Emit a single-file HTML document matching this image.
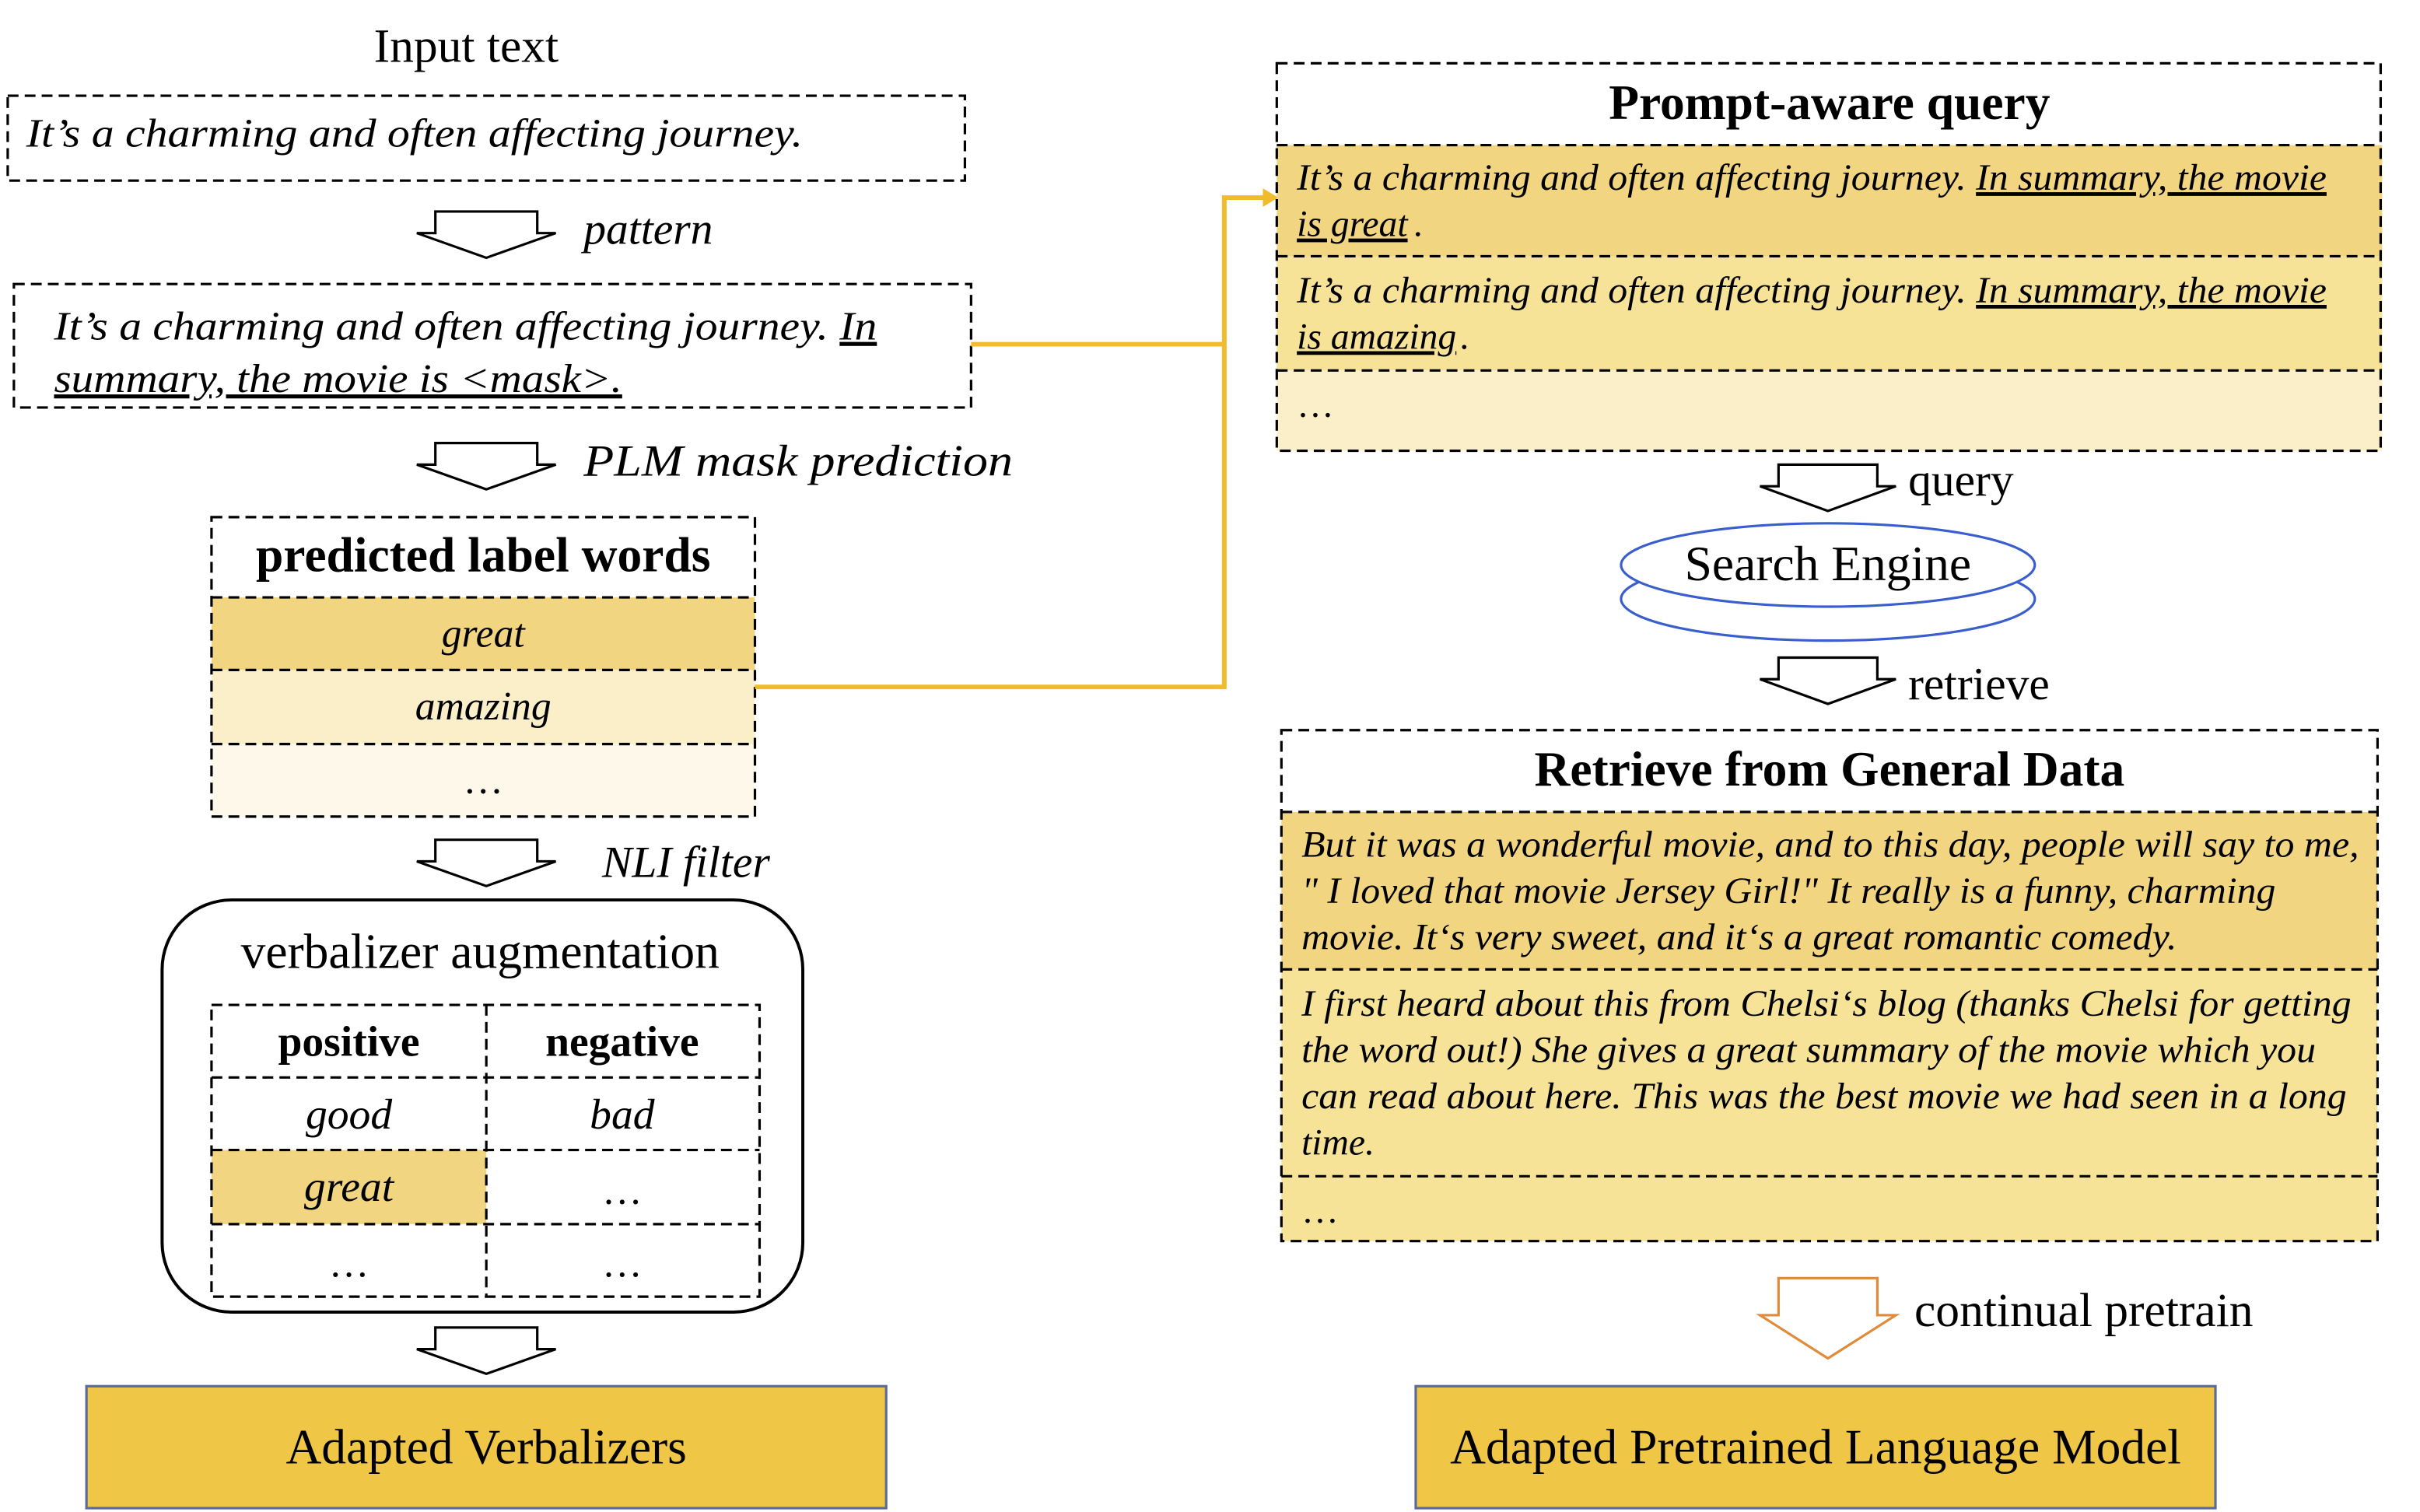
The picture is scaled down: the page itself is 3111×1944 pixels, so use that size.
<!DOCTYPE html>
<html><head><meta charset="utf-8"><style>html,body{margin:0;padding:0;background:#fff}svg{display:block}</style></head>
<body>
<svg xmlns="http://www.w3.org/2000/svg" width="3111" height="1944" viewBox="0 0 1567.5 979.5" preserveAspectRatio="none" font-family="Liberation Serif, serif">
<defs>
<g id="harrow"><path d="M282,0 H348 V14 H360 L315,30 L270,14 H282 Z" fill="#fff" stroke="#000" stroke-width="1.6"/></g>
<g id="harrowR"><path d="M1152,0 H1216 V14 H1228 L1184,30 L1140,14 H1152 Z" fill="#fff" stroke="#000" stroke-width="1.6"/></g>
</defs>
<!-- Left -->
<text x="302" y="40" font-size="31" text-anchor="middle">Input text</text>
<rect x="5" y="62" width="620" height="55" fill="#fff" stroke="#000" stroke-width="1.6" stroke-dasharray="7 4"/>
<text x="17" y="95" font-size="26" font-style="italic" textLength="503" lengthAdjust="spacingAndGlyphs">It’s a charming and often affecting journey.</text>
<use href="#harrow" transform="translate(0,137)"/>
<text x="378" y="158" font-size="29" font-style="italic">pattern</text>
<rect x="9" y="184" width="620" height="80" fill="#fff" stroke="#000" stroke-width="1.6" stroke-dasharray="7 4"/>
<text x="35" y="220" font-size="26" font-style="italic" textLength="533" lengthAdjust="spacingAndGlyphs">It’s a charming and often affecting journey. <tspan text-decoration="underline">In</tspan></text>
<text x="35" y="254" font-size="26" font-style="italic" text-decoration="underline" textLength="368" lengthAdjust="spacingAndGlyphs">summary, the movie is &lt;mask&gt;.</text>
<use href="#harrow" transform="translate(0,287)"/>
<text x="378" y="308" font-size="29" font-style="italic" textLength="278" lengthAdjust="spacingAndGlyphs">PLM mask prediction</text>
<rect x="137" y="387" width="352" height="47" fill="#f2d580"/>
<rect x="137" y="434" width="352" height="48" fill="#faefc9"/>
<rect x="137" y="482" width="352" height="47" fill="#fdf8ea"/>
<g stroke="#000" stroke-width="1.6" stroke-dasharray="7 4" fill="none">
<rect x="137" y="335" width="352" height="194"/>
<line x1="137" y1="387" x2="489" y2="387"/><line x1="137" y1="434" x2="489" y2="434"/><line x1="137" y1="482" x2="489" y2="482"/>
</g>
<text x="313" y="370" font-size="32" font-weight="bold" text-anchor="middle">predicted label words</text>
<text x="313" y="419" font-size="26" font-style="italic" text-anchor="middle">great</text>
<text x="313" y="466" font-size="26" font-style="italic" text-anchor="middle">amazing</text>
<text x="313" y="514" font-size="26" text-anchor="middle">…</text>
<use href="#harrow" transform="translate(0,544)"/>
<text x="390" y="568" font-size="29" font-style="italic">NLI filter</text>
<rect x="105" y="583" width="415" height="267" rx="45" fill="#fff" stroke="#000" stroke-width="2"/>
<text x="311" y="627" font-size="32" text-anchor="middle">verbalizer augmentation</text>
<rect x="137" y="745" width="178" height="48" fill="#f2d580"/>
<g stroke="#000" stroke-width="1.6" stroke-dasharray="7 4" fill="none">
<rect x="137" y="651" width="355" height="189"/>
<line x1="315" y1="651" x2="315" y2="840"/>
<line x1="137" y1="698" x2="492" y2="698"/><line x1="137" y1="745" x2="492" y2="745"/><line x1="137" y1="793" x2="492" y2="793"/>
</g>
<text x="226" y="684" font-size="28" font-weight="bold" text-anchor="middle">positive</text>
<text x="403" y="684" font-size="28" font-weight="bold" text-anchor="middle">negative</text>
<text x="226" y="731" font-size="28" font-style="italic" text-anchor="middle">good</text>
<text x="403" y="731" font-size="28" font-style="italic" text-anchor="middle">bad</text>
<text x="226" y="778" font-size="28" font-style="italic" text-anchor="middle">great</text>
<text x="403" y="780" font-size="26" text-anchor="middle">…</text>
<text x="226" y="827" font-size="26" text-anchor="middle">…</text>
<text x="403" y="827" font-size="26" text-anchor="middle">…</text>
<use href="#harrow" transform="translate(0,860)"/>
<rect x="56" y="898" width="518" height="79" fill="#f0c646" stroke="#5a6a9a" stroke-width="1.6"/>
<text x="315" y="948" font-size="32" text-anchor="middle">Adapted Verbalizers</text>
<!-- connectors -->
<g stroke="#f0bc2e" stroke-width="3" fill="none">
<polyline points="629,223 793,223 793,128 820,128"/>
<polyline points="489,445 793,445 793,223"/>
</g>
<path d="M828,128 L818,122 L818,134 Z" fill="#f0bc2e"/>
<!-- Right -->
<rect x="827" y="94" width="716" height="72" fill="#f2d580"/>
<rect x="827" y="166" width="716" height="74" fill="#f6e398"/>
<rect x="827" y="240" width="716" height="52" fill="#faefc9"/>
<g stroke="#000" stroke-width="1.6" stroke-dasharray="7 4" fill="none">
<rect x="827" y="41" width="715" height="251"/>
<line x1="827" y1="94" x2="1542" y2="94"/><line x1="827" y1="166" x2="1542" y2="166"/><line x1="827" y1="240" x2="1542" y2="240"/>
</g>
<text x="1185" y="77" font-size="32" font-weight="bold" text-anchor="middle">Prompt-aware query</text>
<g font-size="24" font-style="italic">
<text x="840" y="123" textLength="667" lengthAdjust="spacingAndGlyphs">It’s a charming and often affecting journey. <tspan text-decoration="underline">In summary, the movie</tspan></text>
<text x="840" y="153" text-decoration="underline">is great</text><text x="916" y="153">.</text>
<text x="840" y="196" textLength="667" lengthAdjust="spacingAndGlyphs">It’s a charming and often affecting journey. <tspan text-decoration="underline">In summary, the movie</tspan></text>
<text x="840" y="226" text-decoration="underline">is amazing</text><text x="946" y="226">.</text>
</g>
<text x="840" y="270" font-size="24">…</text>
<use href="#harrowR" transform="translate(0,301)"/>
<text x="1236" y="321" font-size="30">query</text>
<ellipse cx="1184" cy="388" rx="134" ry="27" fill="#fff" stroke="#3a5fcd" stroke-width="1.6"/>
<ellipse cx="1184" cy="366" rx="134" ry="27" fill="#fff" stroke="#3a5fcd" stroke-width="1.6"/>
<text x="1184" y="376" font-size="32" text-anchor="middle">Search Engine</text>
<use href="#harrowR" transform="translate(0,426)"/>
<text x="1236" y="453" font-size="30">retrieve</text>
<rect x="830" y="526" width="710" height="102" fill="#f2d580"/>
<rect x="830" y="628" width="710" height="176" fill="#f6e398"/>
<g stroke="#000" stroke-width="1.6" stroke-dasharray="7 4" fill="none">
<rect x="830" y="473" width="710" height="331"/>
<line x1="830" y1="526" x2="1540" y2="526"/><line x1="830" y1="628" x2="1540" y2="628"/><line x1="830" y1="762" x2="1540" y2="762"/>
</g>
<text x="1185" y="509" font-size="32" font-weight="bold" text-anchor="middle">Retrieve from General Data</text>
<g font-size="24" font-style="italic">
<text x="843" y="555" textLength="685" lengthAdjust="spacingAndGlyphs">But it was a wonderful movie, and to this day, people will say to me,</text>
<text x="843" y="585" textLength="631" lengthAdjust="spacingAndGlyphs">" I loved that movie Jersey Girl!" It really is a funny, charming</text>
<text x="843" y="615" textLength="567" lengthAdjust="spacingAndGlyphs">movie. It‘s very sweet, and it‘s a great romantic comedy.</text>
<text x="843" y="658" textLength="680" lengthAdjust="spacingAndGlyphs">I first heard about this from Chelsi‘s blog (thanks Chelsi for getting</text>
<text x="843" y="688" textLength="657" lengthAdjust="spacingAndGlyphs">the word out!) She gives a great summary of the movie which you</text>
<text x="843" y="718" textLength="677" lengthAdjust="spacingAndGlyphs">can read about here. This was the best movie we had seen in a long</text>
<text x="843" y="748">time.</text>
</g>
<text x="843" y="792" font-size="24">…</text>
<path d="M1152,828 H1216 V852 H1228 L1184,880 L1140,852 H1152 Z" fill="#fff" stroke="#e08a3a" stroke-width="1.6"/>
<text x="1240" y="859" font-size="31">continual pretrain</text>
<rect x="917" y="898" width="518" height="79" fill="#f0c646" stroke="#5a6a9a" stroke-width="1.6"/>
<text x="1176" y="948" font-size="32" text-anchor="middle">Adapted Pretrained Language Model</text>
</svg>
</body></html>
